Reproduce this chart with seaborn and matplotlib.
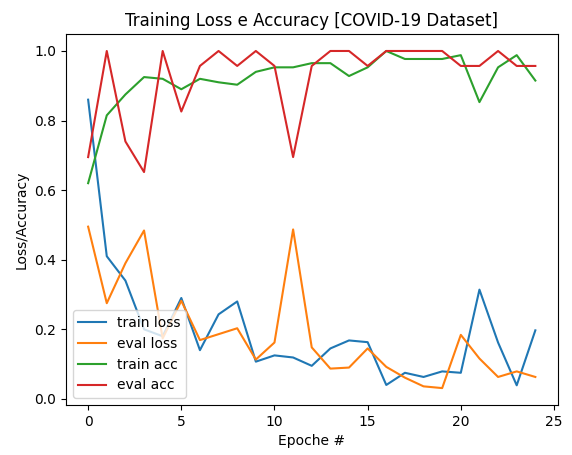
import matplotlib
matplotlib.use("Agg")
import matplotlib.pyplot as plt
import seaborn as sns
import numpy as np

epochs = list(range(25))
train_loss = [0.86, 0.41, 0.34, 0.20, 0.18, 0.29, 0.14, 0.243, 0.28, 0.107, 0.125, 0.119, 0.095, 0.145, 0.168, 0.163, 0.04, 0.075, 0.063, 0.079, 0.075, 0.314, 0.162, 0.039, 0.197]
eval_loss = [0.495, 0.275, 0.39, 0.484, 0.174, 0.282, 0.169, 0.186, 0.203, 0.113, 0.162, 0.487, 0.148, 0.087, 0.09, 0.145, 0.092, 0.061, 0.036, 0.031, 0.184, 0.116, 0.063, 0.079, 0.063]
train_acc = [0.62, 0.815, 0.875, 0.925, 0.92, 0.89, 0.92, 0.91, 0.903, 0.94, 0.953, 0.953, 0.965, 0.965, 0.928, 0.953, 1.0, 0.977, 0.977, 0.977, 0.988, 0.853, 0.953, 0.988, 0.915]
eval_acc = [0.695, 1.0, 0.74, 0.652, 1.0, 0.826, 0.957, 1.0, 0.957, 1.0, 0.957, 0.695, 0.957, 1.0, 1.0, 0.957, 1.0, 1.0, 1.0, 1.0, 0.957, 0.957, 1.0, 0.957, 0.957]

fig, ax = plt.subplots(figsize=(5.72, 4.55), dpi=100)
pal = sns.color_palette("tab10")
for ys, lab, c in [(train_loss, "train loss", pal[0]), (eval_loss, "eval loss", pal[1]),
                   (train_acc, "train acc", pal[2]), (eval_acc, "eval acc", pal[3])]:
    sns.lineplot(x=epochs, y=ys, ax=ax, label=lab, color=c, linewidth=1.5)
ax.set_title("Training Loss e Accuracy [COVID-19 Dataset]")
ax.set_xlabel("Epoche #")
ax.set_ylabel("Loss/Accuracy")
ax.legend(loc="lower left")
fig.subplots_adjust(left=0.115, right=0.975, top=0.925, bottom=0.11)
fig.savefig("out.png")
